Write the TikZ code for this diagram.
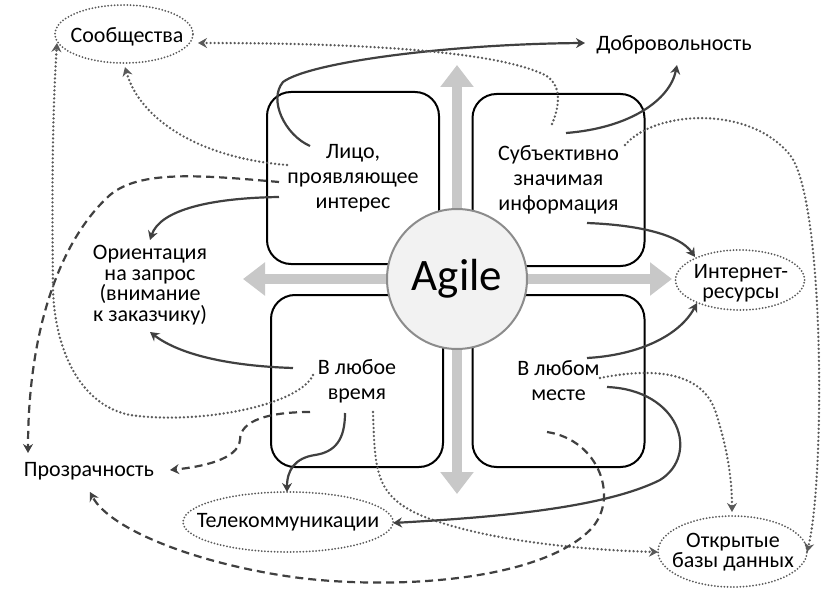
\documentclass[tikz,border=0pt]{standalone}
\usepackage{fontspec}
\setmainfont{Carlito}
\usetikzlibrary{arrows.meta,shapes.geometric}
\definecolor{cdark}{HTML}{404040}
\definecolor{cdot}{HTML}{5A5A5A}
\definecolor{cgray}{HTML}{C8C8C8}
\definecolor{ccircle}{HTML}{8C8C8C}
\definecolor{cfill}{HTML}{F2F2F2}
\begin{document}
\begin{tikzpicture}[x=1pt,y=-1pt,
  txt/.style={font=\fontsize{22}{25}\selectfont, align=center, inner sep=0pt},
  box/.style={draw=black, line width=2pt, rounded corners=24pt, minimum width=172pt, minimum height=172pt, align=center, font=\fontsize{22}{25}\selectfont},
  agilec/.style={circle, draw=ccircle, line width=2pt, fill=cfill, minimum size=140pt, font=\fontsize{45}{45}\selectfont},
  garrow/.style={draw=cgray, line width=10pt, -{Triangle[length=22pt,width=32pt]}},
  ell/.style={ellipse, draw=cdot, line width=2pt, dash pattern=on 0pt off 3.2pt, line cap=round, inner sep=0pt},
  etxt/.style={font=\fontsize{22}{20.5}\selectfont, align=center, inner sep=0pt},
  conn/.style={draw=cdark, line width=2.2pt, -{Stealth[length=9pt,width=10pt,inset=3pt]}},
  dotc/.style={conn, draw=cdot, line width=2.6pt, dash pattern=on 0pt off 4pt, line cap=round},
  dashc/.style={conn, dash pattern=on 8pt off 5pt}]
\useasboundingbox (0,0) rectangle (828,591);
\fill[white] (0,0) rectangle (828,591);

% boxes
\node[box] (tl) at (353,178) {Лицо,\\проявляющее\\интерес};
\node[box] (tr) at (558.5,180) {Субъективно\\значимая\\информация};
\node[box] (bl) at (357,381) {В любое\\время};
\node[box] (br) at (558.5,381) {В любом\\месте};

% gray arrows
\coordinate (c0) at (457,279);
\coordinate (gT) at (457,65);
\coordinate (gB) at (457,494);
\coordinate (gL) at (243,279);
\coordinate (gR) at (672,279);
\draw[garrow] (c0) -- (gT);
\draw[garrow] (c0) -- (gB);
\draw[garrow] (c0) -- (gL);
\draw[garrow] (c0) -- (gR);
\node[agilec] (agile) at (457,279) {Agile};

% outer nodes
\node[ell, minimum width=138pt, minimum height=58pt] (soob) at (124,34) {};
\node[etxt] (soobt) at (127,37) {Сообщества};
\node[txt] (dobr) at (674,45) {Добровольность};
\node[etxt] (orient) at (150,285) {Ориентация\\на запрос\\(внимание\\к заказчику)};
\node[ell, minimum width=129pt, minimum height=60pt] (inet) at (740,280) {};
\node[etxt] (inett) at (741,283) {Интернет-\\ресурсы};
\node[txt] (prozr) at (89,471) {Прозрачность};
\node[ell, minimum width=210pt, minimum height=60pt] (tele) at (288,522) {};
\node[etxt] (telet) at (288,522) {Телекоммуникации};
\node[ell, minimum width=149pt, minimum height=71pt] (otkr) at (732.5,551.5) {};
\node[etxt] (otkrt) at (733,552) {Открытые\\базы данных};

% connector end points
\coordinate (s1) at (310,146);
\coordinate (e1) at (585,43);
\coordinate (s2) at (552,124);
\coordinate (e2) at (198,43);
\coordinate (s3) at (566,133);
\coordinate (e3) at (677,65);
\coordinate (s4) at (625,145);
\coordinate (e4) at (807,552);
\coordinate (s5) at (587,223);
\coordinate (e5) at (695,257);
\coordinate (s6) at (287,165);
\coordinate (e6) at (125,67);
\coordinate (s7) at (279,182);
\coordinate (e7) at (28,453);
\coordinate (s8) at (279,197);
\coordinate (e8) at (150,240);
\coordinate (s9) at (313,375);
\coordinate (e9) at (57,43);
\coordinate (s10) at (293,368);
\coordinate (e10) at (150,332);
\coordinate (s11) at (310,412);
\coordinate (e11) at (170,470);
\coordinate (s12) at (345,413);
\coordinate (e12) at (287,492);
\coordinate (s13) at (373,412);
\coordinate (e13) at (658,552);
\coordinate (s14) at (587,358);
\coordinate (e14) at (697,303);
\coordinate (s15) at (600,378);
\coordinate (e15) at (732,512);
\coordinate (s16) at (607,387);
\coordinate (e16) at (393,523);
\coordinate (s17) at (547,432);
\coordinate (e17) at (90,492);

% connectors
\draw[conn] (s1) .. controls (285,135) and (268,100) .. (283,82) .. controls (310,62) and (450,44) .. (e1);
\draw[dotc] (s2) .. controls (560,105) and (562,85) .. (545,75) .. controls (510,58) and (420,43) .. (e2);
\draw[conn] (s3) .. controls (630,128) and (670,100) .. (e3);
\draw[dotc] (s4) .. controls (655,110) and (750,105) .. (790,155) .. controls (825,200) and (825,480) .. (e4);
\draw[conn] (s5) .. controls (640,225) and (680,235) .. (e5);
\draw[dotc] (s6) .. controls (200,158) and (140,120) .. (e6);
\draw[dashc] (s7) .. controls (200,175) and (140,170) .. (110,195) .. controls (60,240) and (28,330) .. (e7);
\draw[conn] (s8) .. controls (210,198) and (160,210) .. (e8);
\draw[dotc] (s9) .. controls (300,405) and (200,425) .. (130,415) .. controls (80,405) and (55,350) .. (53,290) .. controls (52,200) and (52,120) .. (e9);
\draw[conn] (s10) .. controls (230,366) and (180,355) .. (e10);
\draw[dashc] (s11) .. controls (270,412) and (240,420) .. (240,440) .. controls (238,460) and (200,467) .. (e11);
\draw[conn] (s12) .. controls (345,440) and (335,452) .. (315,455) .. controls (295,458) and (287,470) .. (e12);
\draw[dotc] (s13) .. controls (375,470) and (375,495) .. (420,515) .. controls (480,540) and (580,550) .. (e13);
\draw[conn] (s14) .. controls (640,355) and (680,335) .. (e14);
\draw[dotc] (s15) .. controls (650,368) and (700,370) .. (715,410) .. controls (728,450) and (732,480) .. (e15);
\draw[conn] (s16) .. controls (680,390) and (700,455) .. (660,480) .. controls (600,510) and (480,518) .. (e16);
\draw[dashc] (s17) .. controls (600,440) and (620,500) .. (590,530) .. controls (540,580) and (400,590) .. (300,578) .. controls (200,565) and (110,530) .. (e17);
\end{tikzpicture}
\end{document}
